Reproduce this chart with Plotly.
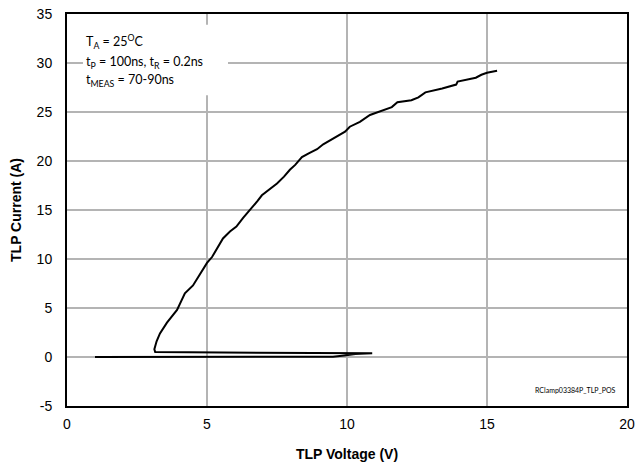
import plotly.graph_objects as go

# TLP sweep (voltage V, current A)
voltage = [1.0, 9.5, 9.9, 10.3, 10.9, 3.15, 3.12, 3.2, 3.32, 3.57, 3.93, 4.04, 4.21, 4.5, 4.75,
           5.0, 5.18, 5.35, 5.57, 5.82, 6.05, 6.29, 6.45, 6.61, 6.8, 6.96, 7.2, 7.5, 7.75, 7.96,
           8.15, 8.39, 8.65, 8.93, 9.15, 9.39, 9.7, 9.93, 10.1, 10.46, 10.82, 11.29, 11.6, 11.8,
           12.3, 12.55, 12.8, 13.4, 13.9, 13.95, 14.6, 14.8, 15.0, 15.36]
current = [0.0, 0.02, 0.15, 0.3, 0.38, 0.5, 0.8, 1.6, 2.4, 3.5, 4.8, 5.5, 6.5, 7.3, 8.4,
           9.6, 10.2, 11.0, 12.1, 12.8, 13.3, 14.2, 14.7, 15.2, 15.9, 16.5, 17.0, 17.7, 18.4, 19.1,
           19.6, 20.4, 20.8, 21.2, 21.7, 22.1, 22.6, 23.0, 23.5, 24.0, 24.7, 25.2, 25.5, 26.0,
           26.2, 26.5, 27.0, 27.4, 27.8, 28.1, 28.5, 28.8, 29.0, 29.2]

x_ticks = [0, 5, 10, 15, 20]
y_ticks = [-5, 0, 5, 10, 15, 20, 25, 30, 35]

W, H = 637, 465
L, R, T, B = 67, 10, 14, 59
PW, PH = W - L - R, H - T - B


def px_to_paper(px, py):
    return (px - L) / PW, 1 - (py - T) / PH


fig = go.Figure()
fig.add_trace(go.Scatter(x=voltage, y=current, mode="lines",
                         line=dict(color="black", width=2), showlegend=False))

grid = "#b4b4b4"
axfont = dict(family="Liberation Sans, Arial", size=14, color="black")
fig.update_xaxes(range=[0, 20], tickvals=x_ticks, ticktext=[str(v) for v in x_ticks],
                 showgrid=True, gridcolor=grid, gridwidth=1.5, zeroline=False,
                 showline=True, linecolor="black", linewidth=2, mirror=True,
                 ticks="", tickfont=axfont, automargin=False, ticklabeloverflow="allow",
                 ticklabelstandoff=4,
                 title=dict(text="<b>TLP Voltage (V)</b>", standoff=18, font=axfont))
fig.update_yaxes(range=[-5, 35], tickvals=y_ticks, ticktext=[str(v) for v in y_ticks],
                 showgrid=True, gridcolor=grid, gridwidth=1.5, zeroline=False,
                 showline=True, linecolor="black", linewidth=2, mirror=True,
                 ticks="", tickfont=axfont, automargin=False, ticklabelstandoff=10,
                 ticklabeloverflow="allow",
                 title=dict(text="<b>TLP Current (A)</b>", standoff=12, font=axfont))

# white text box background
fig.add_shape(type="rect", xref="x", yref="y", x0=0.57, x1=5.75, y0=26.7, y1=33.9,
              fillcolor="white", line=dict(width=0), layer="above")

tfont = dict(family="Lato, Open Sans, sans-serif", size=12.5, color="black")
lines = [("T<sub>A</sub> = 25<sup>O</sup>C", 41),
         ("t<sub>P</sub> = 100ns, t<sub>R</sub> = 0.2ns", 62),
         ("t<sub>MEAS</sub> = 70-90ns", 80)]
for txt, ypx in lines:
    ax, ay = px_to_paper(84, ypx)
    fig.add_annotation(x=ax, y=ay, xref="paper", yref="paper",
                       text=txt, showarrow=False, xanchor="left", yanchor="middle", font=tfont)

sx, sy = px_to_paper(575, 390)
fig.add_annotation(x=sx, y=sy, xref="paper", yref="paper",
                   text="RClamp03384P_TLP_POS", showarrow=False, xanchor="center", yanchor="middle",
                   font=dict(family="Lato, sans-serif", size=7, color="black"))

fig.update_layout(width=W, height=H, margin=dict(l=L, r=R, t=T, b=B),
                  plot_bgcolor="white", paper_bgcolor="white")

fig.write_html("out.html", config={"displayModeBar": False},
               post_script="document.body.style.margin='0';")
